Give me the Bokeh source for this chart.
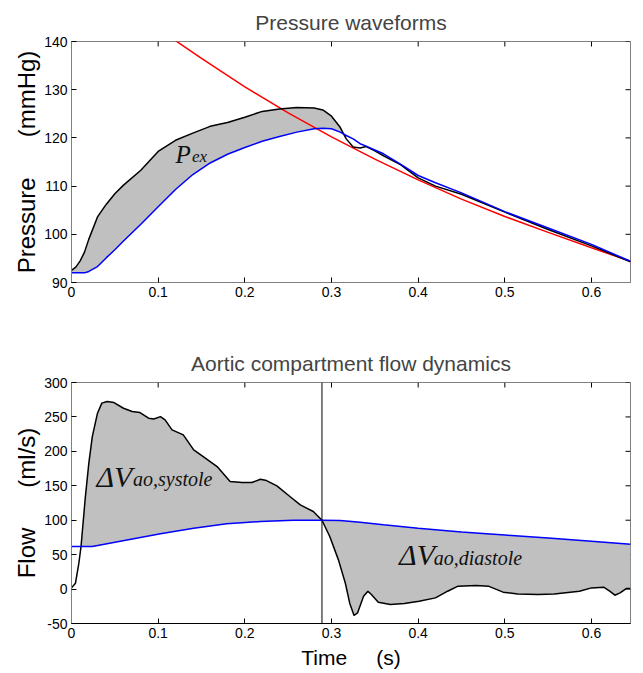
import numpy as np
from bokeh.plotting import figure
from bokeh.models import Range1d, FixedTicker, Label, Span
from bokeh.layouts import column
from bokeh.embed import file_html
from bokeh.resources import INLINE

# ---------------- data ----------------
# Pressure panel (time in s, pressure in mmHg)
t_pres = [0, 0.005, 0.01, 0.015, 0.02, 0.03, 0.04, 0.05, 0.06, 0.08, 0.1, 0.12,
          0.14, 0.16, 0.18, 0.2, 0.22, 0.24, 0.26, 0.28, 0.29, 0.30, 0.31, 0.317,
          0.325, 0.333, 0.34, 0.35, 0.36, 0.38, 0.40, 0.42, 0.45, 0.5, 0.55, 0.6, 0.645]
p_measured = [92.5, 93.2, 94.5, 96.3, 99.0, 103.6, 106.2, 108.4, 110.2, 113.3, 117.2, 119.5,
              121.0, 122.4, 123.2, 124.3, 125.5, 126.0, 126.3, 126.2, 125.8, 124.5, 122.2, 119.8,
              118.1, 117.9, 118.2, 117.3, 116.3, 114.4, 111.7, 110.0, 108.3, 104.6, 101.0, 97.6, 94.3]
p_model = [92.0, 92.0, 92.0, 92.0, 92.3, 93.3, 95.1, 96.8, 98.6, 102.1, 105.7, 109.3,
           112.4, 114.8, 116.6, 118.0, 119.3, 120.3, 121.2, 121.9, 122.0, 121.9, 121.2, 120.5,
           119.8, 118.8, 118.3, 117.5, 116.7, 114.5, 112.2, 110.7, 108.6, 104.7, 101.3, 97.9, 94.4]
t_decay = [0.119, 0.15, 0.2, 0.25, 0.3, 0.35, 0.4, 0.45, 0.5, 0.55, 0.6, 0.645]
p_decay = [140.3, 136.5, 130.6, 125.2, 120.2, 115.6, 111.3, 107.3, 103.7, 100.4, 97.2, 94.4]
t_fill_end = 0.317

# Flow panel (time in s, flow in ml/s)
t_flow = [0, 0.0046, 0.0085, 0.011, 0.016, 0.020, 0.024, 0.030, 0.035, 0.041, 0.049, 0.060,
          0.070, 0.079, 0.089, 0.095, 0.1026, 0.108, 0.116, 0.129, 0.141, 0.152, 0.168, 0.183,
          0.197, 0.208, 0.218, 0.225, 0.237, 0.252, 0.264, 0.279, 0.289, 0.298, 0.308, 0.316,
          0.321, 0.326, 0.330, 0.337, 0.342, 0.346, 0.354, 0.368, 0.384, 0.401, 0.420, 0.434,
          0.446, 0.467, 0.481, 0.498, 0.515, 0.538, 0.557, 0.586, 0.600, 0.614, 0.621, 0.627,
          0.633, 0.640, 0.645]
q_measured = [2, 8.5, 37.6, 61.8, 134, 182.8, 221.5, 255.4, 270, 272.3, 270.9, 262.6,
              257.8, 256.3, 248.1, 247.1, 250.5, 245.7, 231.2, 223.9, 202.1, 192.4, 177.9, 156.1,
              154.7, 154.7, 159.5, 157.6, 149.9, 134.4, 122.3, 112.6, 100.0, 76.3, 42.4, 8.5,
              -20.5, -38.4, -34.6, -10.4, -3.1, -7.9, -19.1, -22.5, -21, -17.6, -12.8, -3.1,
              4.2, 5.1, 4.2, -4.5, -7, -7.9, -7, -3.1, 1.7, 2.7, -3.1, -8.9,
              -5.5, 0.8, 0.8]
t_flow_model = [0, 0.011, 0.024, 0.064, 0.1026, 0.141, 0.179, 0.218, 0.256, 0.289, 0.31,
                0.333, 0.36, 0.40, 0.45, 0.5, 0.55, 0.6, 0.645]
q_model = [61.8, 61.8, 61.8, 71.4, 80.2, 88.4, 94.7, 98.1, 100, 100, 99.5,
           97.0, 93.5, 88.5, 83.0, 78.5, 74.0, 69.5, 65.2]
t_fill_start = 0.011
t_valve_close = 0.289

# axes / ticks
t_range = (0, 0.645)
p_range = (90, 140)
q_range = (-50, 300)
x_ticks = [0, 0.1, 0.2, 0.3, 0.4, 0.5, 0.6]
x_tick_labels = ["0", "0.1", "0.2", "0.3", "0.4", "0.5", "0.6"]
p_ticks = [90, 100, 110, 120, 130, 140]
p_tick_labels = ["90", "100", "110", "120", "130", "140"]
q_ticks = [-50, 0, 50, 100, 150, 200, 250, 300]
q_tick_labels = ["-50", "0", "50", "100", "150", "200", "250", "300"]

# ---------------- style ----------------
FONT = "Liberation Sans"
SERIF = "Liberation Serif"
AX_GRAY = "#808080"
FILL = "#c0c0c0"
NB = "\u00a0"


def style_axis(ax):
    ax.axis_line_color = AX_GRAY
    ax.axis_line_width = 1
    ax.major_tick_line_color = "black"
    ax.major_tick_in = 5
    ax.major_tick_out = 0
    ax.minor_tick_line_color = None
    ax.major_label_text_font = FONT
    ax.major_label_text_color = "black"
    ax.major_label_text_font_size = "14px"
    ax.axis_label_text_font = FONT
    ax.axis_label_text_font_style = "normal"
    ax.axis_label_text_color = "black"


def make_fig(title, yr, yticks, ylabels, ylabel, top_border, bottom_border):
    p = figure(frame_width=559, frame_height=241,
               x_range=Range1d(*t_range), y_range=Range1d(*yr),
               output_backend="svg", toolbar_location=None,
               min_border_left=71, min_border_right=5,
               min_border_top=top_border, min_border_bottom=bottom_border)
    p.grid.visible = False
    p.outline_line_color = AX_GRAY
    p.background_fill_color = "white"
    p.border_fill_color = "white"
    p.title.text = title
    p.title.text_font = FONT
    p.title.text_font_size = "21px"
    p.title.text_font_style = "normal"
    p.title.align = "center"
    p.title.standoff = 16

    xa = p.xaxis[0]
    xa.ticker = FixedTicker(ticks=x_ticks)
    xa.major_label_overrides = dict(zip(x_ticks, x_tick_labels))
    style_axis(xa)
    xa.major_label_standoff = 4
    ya = p.yaxis[0]
    ya.ticker = FixedTicker(ticks=yticks)
    ya.major_label_overrides = dict(zip(yticks, ylabels))
    style_axis(ya)
    ya.major_label_standoff = 4
    ya.axis_label = ylabel
    ya.axis_label_text_font_size = "24px"
    ya.axis_label_standoff = 1

    # inward ticks on the top and right edges of the box
    p.ray(x=x_ticks, y=[yr[1]] * len(x_ticks), length=5, length_units="screen",
          angle=-np.pi / 2, line_color="black", line_width=1)
    p.ray(x=[t_range[1]] * len(yticks), y=yticks, length=5, length_units="screen",
          angle=np.pi, line_color="black", line_width=1)
    return p, xa, ya


# ---------------- top: pressure ----------------
p1, xa1, ya1 = make_fig("Pressure waveforms", p_range, p_ticks, p_tick_labels,
                        "Pressure" + NB * 6 + "(mmHg)", 41, 59)
tp = np.array(t_pres)
k = tp <= t_fill_end
fx = np.concatenate([tp[k], tp[k][::-1]])
fy = np.concatenate([np.array(p_measured)[k], np.array(p_model)[k][::-1]])
p1.patch(fx, fy, fill_color=FILL, line_color=None)
p1.line(t_decay, p_decay, line_color="#ff0000", line_width=1.5)
p1.line(t_pres, p_measured, line_color="black", line_width=1.5)
p1.line(t_pres, p_model, line_color="#0000ff", line_width=1.5)
p1.add_layout(Label(x=0.120, y=116.6, text="P", text_font=SERIF, text_font_style="italic",
                    text_font_size="25px", text_baseline="alphabetic", text_color="#111111"))
p1.add_layout(Label(x=0.139, y=116.2, text="ex", text_font=SERIF, text_font_style="italic",
                    text_font_size="17px", text_baseline="alphabetic", text_color="#111111"))

# ---------------- bottom: flow ----------------
p2, xa2, ya2 = make_fig("Aortic compartment flow dynamics", q_range, q_ticks, q_tick_labels,
                        "Flow" + NB * 6 + "(ml/s)", 41, 49)
xa2.axis_label = "Time" + NB * 5 + "(s)"
xa2.axis_label_text_font_size = "21px"
xa2.axis_label_standoff = 5
xa2.major_label_standoff = 4
xa2.axis_line_color = "black"

tq = np.array(t_flow)
qm = np.array(q_measured)
tqm = np.array(t_flow_model)
qmm = np.array(q_model)
k1 = tq >= t_fill_start
k2 = tqm >= t_fill_start
fx2 = np.concatenate([tq[k1], tqm[k2][::-1]])
fy2 = np.concatenate([qm[k1], qmm[k2][::-1]])
p2.patch(fx2, fy2, fill_color=FILL, line_color=None)
p2.add_layout(Span(location=t_valve_close, dimension="height", line_color="black", line_width=1))
p2.line(t_flow, q_measured, line_color="black", line_width=1.5)
p2.line(t_flow_model, q_model, line_color="#0000ff", line_width=1.5)
p2.add_layout(Label(x=0.0288, y=164.0, text="\u0394V", text_font=SERIF, text_font_style="italic",
                    text_font_size="30px", text_baseline="alphabetic", text_color="#111111"))
p2.add_layout(Label(x=0.071, y=159.6, text="ao,systole", text_font=SERIF, text_font_style="italic",
                    text_font_size="20px", text_baseline="alphabetic", text_color="#111111"))
p2.add_layout(Label(x=0.378, y=50.0, text="\u0394V", text_font=SERIF, text_font_style="italic",
                    text_font_size="30px", text_baseline="alphabetic", text_color="#111111"))
p2.add_layout(Label(x=0.418, y=45.6, text="ao,diastole", text_font=SERIF, text_font_style="italic",
                    text_font_size="20px", text_baseline="alphabetic", text_color="#111111"))

layout = column(p1, p2)
open("out.html", "w").write(file_html(layout, INLINE))
